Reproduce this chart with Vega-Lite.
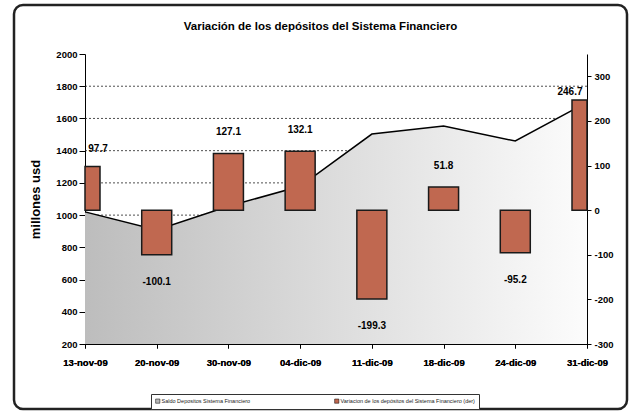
{
  "$schema": "https://vega.github.io/schema/vega-lite/v6.json",
  "width": 613,
  "height": 404,
  "autosize": {"type": "none"},
  "padding": {"left": 14, "top": 5, "right": 9, "bottom": 2},
  "background": "white",
  "title": {"text": "Variación de los depósitos del Sistema Financiero", "font": "Liberation Sans", "fontSize": 11.5, "fontWeight": "bold", "color": "#000", "anchor": "middle", "offset": -33, "baseline": "middle"},
  "datasets": {
    "depositos": [
      {"fecha": "13-nov-09", "saldo": 1020, "variacion": 97.7},
      {"fecha": "20-nov-09", "saldo": 908, "variacion": -100.1},
      {"fecha": "30-nov-09", "saldo": 1055, "variacion": 127.1},
      {"fecha": "04-dic-09", "saldo": 1179, "variacion": 132.1},
      {"fecha": "11-dic-09", "saldo": 1503, "variacion": -199.3},
      {"fecha": "18-dic-09", "saldo": 1553, "variacion": 51.8},
      {"fecha": "24-dic-09", "saldo": 1460, "variacion": -95.2},
      {"fecha": "31-dic-09", "saldo": 1700, "variacion": 246.7}
    ],
    "grid": [{"g": 400}, {"g": 600}, {"g": 800}, {"g": 1000}, {"g": 1200}, {"g": 1400}, {"g": 1600}, {"g": 1800}],
    "series": [{"serie": "Saldo Depositos Sistema Financiero"}, {"serie": "Variacion de los depósitos del Sistema Financiero (der)"}]
  },
  "data": {"name": "depositos"},
  "config": {
    "locale": {"number": {"decimal": ".", "thousands": "", "grouping": [3], "currency": ["$", ""], "minus": "-"}},
    "view": {"stroke": "#222", "strokeWidth": 2.5, "cornerRadius": 9, "fill": "white"},
    "axis": {"labelFont": "Liberation Sans", "labelFontWeight": "bold", "labelColor": "#000", "domainColor": "#000", "tickColor": "#000", "grid": false, "titleFont": "Liberation Sans"}
  },
  "encoding": {
    "x": {
      "field": "fecha",
      "type": "ordinal",
      "scale": {"type": "point", "padding": 0, "domain": ["13-nov-09", "20-nov-09", "30-nov-09", "04-dic-09", "11-dic-09", "18-dic-09", "24-dic-09", "31-dic-09"], "range": [71, 573]},
      "axis": {"orient": "bottom", "offset": -65, "title": null, "labelAngle": 0, "labelFontSize": 9.5, "tickSize": 4, "labelPadding": 9, "labelOverlap": false}
    }
  },
  "layer": [
    {
      "layer": [
        {
          "data": {"name": "grid"},
          "mark": {"type": "rule", "color": "#222", "strokeDash": [2, 2], "strokeWidth": 0.8},
          "encoding": {
            "x": {"datum": "13-nov-09"},
            "x2": {"datum": "31-dic-09"},
            "y": {"field": "g", "type": "quantitative", "scale": {"domain": [200, 2000], "range": [339, 49], "nice": false, "zero": false},
              "axis": {"orient": "left", "offset": -71, "format": "d", "values": [200, 400, 600, 800, 1000, 1200, 1400, 1600, 1800, 2000], "labelFontSize": 9.5, "tickSize": 6, "labelPadding": 2, "title": "millones usd", "titleFontSize": 13, "titleFontWeight": "bold", "titleColor": "#000", "titlePadding": 13}}
          }
        },
        {
          "mark": {"type": "area", "color": {"gradient": "linear", "x1": 0, "y1": 0, "x2": 1, "y2": 0, "stops": [{"offset": 0, "color": "#bdbdbd"}, {"offset": 1, "color": "#fcfcfc"}]}},
          "encoding": {
            "y": {"field": "saldo", "type": "quantitative", "scale": {"domain": [200, 2000], "range": [339, 49], "nice": false, "zero": false},
              "axis": {"orient": "left", "offset": -71, "format": "d", "values": [200, 400, 600, 800, 1000, 1200, 1400, 1600, 1800, 2000], "labelFontSize": 9.5, "tickSize": 6, "labelPadding": 2, "title": "millones usd", "titleFontSize": 13, "titleFontWeight": "bold", "titleColor": "#000", "titlePadding": 13}},
            "y2": {"datum": 200}
          }
        },
        {
          "mark": {"type": "line", "color": "#000", "strokeWidth": 1.5},
          "encoding": {
            "y": {"field": "saldo", "type": "quantitative", "scale": {"domain": [200, 2000], "range": [339, 49], "nice": false, "zero": false},
              "axis": {"orient": "left", "offset": -71, "format": "d", "values": [200, 400, 600, 800, 1000, 1200, 1400, 1600, 1800, 2000], "labelFontSize": 9.5, "tickSize": 6, "labelPadding": 2, "title": "millones usd", "titleFontSize": 13, "titleFontWeight": "bold", "titleColor": "#000", "titlePadding": 13}}
          }
        }
      ]
    },
    {
      "encoding": {
        "y": {"field": "variacion", "type": "quantitative", "scale": {"domain": [-300, 350], "range": [339, 49], "nice": false, "zero": false},
          "axis": {"orient": "right", "offset": -40, "format": "d", "values": [-300, -200, -100, 0, 100, 200, 300], "labelFontSize": 9.5, "tickSize": 4, "labelPadding": 3, "title": null}}
      },
      "layer": [
        {
          "transform": [{"filter": "datum.fecha != '13-nov-09' && datum.fecha != '31-dic-09'"}],
          "mark": {"type": "bar", "width": 30, "color": "#c06850", "stroke": "#1a1a1a", "strokeWidth": 1.5},
          "encoding": {"y2": {"datum": 0}}
        },
        {
          "transform": [{"filter": "datum.fecha == '13-nov-09'"}],
          "mark": {"type": "bar", "width": 15, "xOffset": 7.5, "color": "#c06850", "stroke": "#1a1a1a", "strokeWidth": 1.5},
          "encoding": {"y2": {"datum": 0}}
        },
        {
          "transform": [{"filter": "datum.fecha == '31-dic-09'"}],
          "mark": {"type": "bar", "width": 15, "xOffset": -7.5, "color": "#c06850", "stroke": "#1a1a1a", "strokeWidth": 1.5},
          "encoding": {"y2": {"datum": 0}}
        },
        {
          "transform": [{"filter": "datum.variacion > 0 && datum.fecha != '13-nov-09' && datum.fecha != '31-dic-09'"}],
          "mark": {"type": "text", "font": "Liberation Sans", "fontWeight": "bold", "fontSize": 10, "color": "#000", "dy": -21, "baseline": "middle"},
          "encoding": {"text": {"field": "variacion", "type": "quantitative", "format": ".1f"}}
        },
        {
          "transform": [{"filter": "datum.fecha == '13-nov-09'"}],
          "mark": {"type": "text", "font": "Liberation Sans", "fontWeight": "bold", "fontSize": 10, "color": "#000", "dy": -18, "dx": 13, "baseline": "middle"},
          "encoding": {"text": {"field": "variacion", "type": "quantitative", "format": ".1f"}}
        },
        {
          "transform": [{"filter": "datum.fecha == '31-dic-09'"}],
          "mark": {"type": "text", "font": "Liberation Sans", "fontWeight": "bold", "fontSize": 10, "color": "#000", "dy": -8, "dx": -17, "baseline": "middle"},
          "encoding": {"text": {"field": "variacion", "type": "quantitative", "format": ".1f"}}
        },
        {
          "transform": [{"filter": "datum.variacion < 0"}],
          "mark": {"type": "text", "font": "Liberation Sans", "fontWeight": "bold", "fontSize": 10, "color": "#000", "dy": 27, "baseline": "middle"},
          "encoding": {"text": {"field": "variacion", "type": "quantitative", "format": ".1f"}}
        }
      ]
    },
    {
      "data": {"name": "series"},
      "transform": [{"filter": "false"}],
      "mark": {"type": "point", "shape": "square", "filled": true, "size": 18, "stroke": "#000", "strokeWidth": 0.5},
      "encoding": {
        "x": {"field": "serie", "type": "nominal", "scale": null, "axis": null},
        "color": {"field": "serie", "type": "nominal",
          "scale": {"domain": ["Saldo Depositos Sistema Financiero", "Variacion de los depósitos del Sistema Financiero (der)"], "range": ["#b8b8b8", "#c06850"]},
          "legend": {"orient": "none", "legendX": 137, "legendY": 389, "direction": "horizontal", "columns": 2, "title": null, "labelFont": "Liberation Sans", "labelFontSize": 5.5, "labelColor": "#222", "symbolSize": 18, "symbolType": "square", "symbolStrokeColor": "#000", "symbolStrokeWidth": 0.5, "symbolOpacity": 1, "strokeColor": "#333", "padding": 4, "columnPadding": 82, "labelOffset": 1, "fillColor": "white"}}
      }
    }
  ],
  "resolve": {"scale": {"y": "independent", "x": "independent"}}
}
